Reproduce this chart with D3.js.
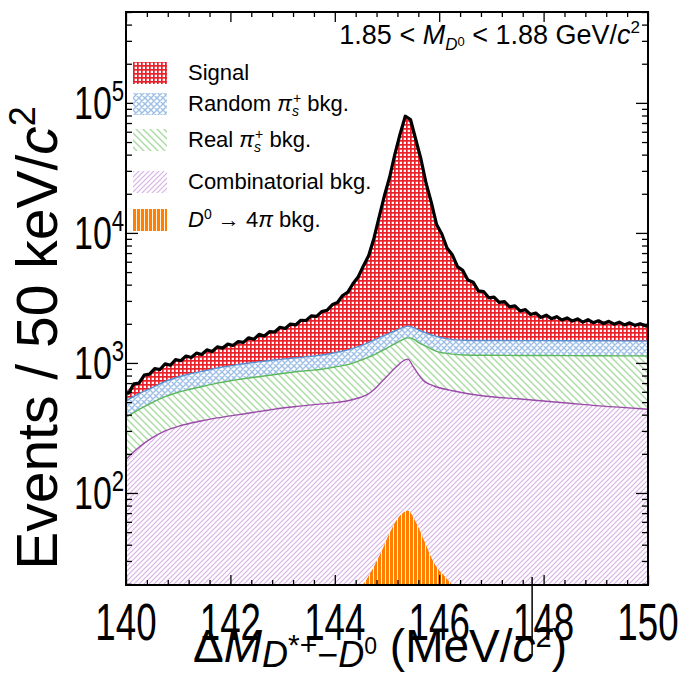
<!DOCTYPE html>
<html>
<head>
<meta charset="utf-8">
<script src="https://cdn.jsdelivr.net/npm/d3@7"></script>
<style>
    body { margin: 0; background: #fff; }
    svg text { font-family: "Liberation Sans", Arial, sans-serif; fill: #000; }
</style>
</head>
<body>
<div id="svg_container"></div>
<script>

/*****************************************/
/*   DATA                                */
/*****************************************/

// fit grid (MeV/c^2)
let fitX = [140, 140.25, 140.5, 140.75, 141, 141.25, 141.5, 141.75, 142, 142.25, 142.5, 142.75,
    143, 143.25, 143.5, 143.75, 144, 144.25, 144.5, 144.6, 144.7, 144.8, 144.9, 145.0, 145.1,
    145.2, 145.3, 145.4, 145.5, 145.6, 145.7, 145.8, 145.9, 146.0, 146.1, 146.2, 146.5, 146.75,
    147, 147.5, 148, 148.5, 149, 149.5, 150];

// fit components, events / 50 keV
let combVals = [182, 225, 265, 300, 325, 345, 362, 378, 392, 405, 420, 435,
    450, 462, 474, 484, 495, 512, 545, 565, 600, 650, 720, 790, 870,
    950, 1030, 1070, 940, 820, 730, 690, 665, 645, 630, 618, 585, 565,
    550, 530, 510, 490, 470, 455, 441];
let realVals = [199, 215, 230, 250, 270, 285, 303, 322, 338, 350, 360, 370,
    380, 393, 401, 411, 435, 458, 505, 525, 530, 530, 520, 510, 500,
    490, 480, 490, 590, 620, 640, 620, 585, 565, 560, 557, 565, 580,
    595, 612, 630, 648, 666, 679, 691];
let randomVals = [129, 140, 150, 170, 185, 200, 205, 215, 220, 230, 235, 240,
    240, 240, 245, 255, 270, 290, 310, 320, 340, 350, 360, 360, 360,
    360, 360, 360, 350, 360, 360, 360, 370, 370, 360, 350, 345, 345,
    345, 343, 345, 344, 344, 344, 343];
let signalVals = [100, 140, 205, 240, 270, 300, 340, 385, 430, 485, 575, 675,
    780, 905, 1080, 1270, 1650, 2290, 3640, 4590, 6230, 8770, 12900, 20340, 30270,
    44200, 62130, 76080, 64120, 43200, 28270, 18330, 12880, 9220, 7150, 5575, 3205, 2160,
    1710, 1135, 815, 678, 600, 532, 485];

// D0 -> 4pi background
let fourPiX = [144.3, 144.5, 144.7, 144.9, 145.1, 145.25, 145.4, 145.55, 145.7, 145.9, 146.1, 146.3, 146.5];
let fourPiVals = [14, 19, 25, 36, 54, 67, 73, 60, 44, 29, 23, 19, 14];

// data, 0.1 MeV steps starting at 140.05
let dataVals = [
    585, 690, 700, 805, 820, 905, 890, 985, 960, 1060,
    1040, 1130, 1100, 1190, 1160, 1260, 1225, 1330, 1300, 1395,
    1360, 1460, 1440, 1560, 1520, 1660, 1610, 1740, 1730, 1880,
    1840, 1990, 1960, 2130, 2120, 2300, 2280, 2480, 2540, 2800,
    2920, 3300, 3500, 4080, 4600, 5600, 6700, 9100, 13300, 19300,
    26800, 40200, 57500, 79000, 74500, 52500, 37000, 24000, 17100, 11600,
    9800, 7650, 6800, 5500, 5150, 4350, 4180, 3580, 3540, 3170,
    3210, 2920, 2960, 2700, 2750, 2510, 2570, 2360, 2420, 2240,
    2330, 2190, 2270, 2140, 2220, 2100, 2180, 2060, 2150, 2040,
    2110, 2010, 2090, 1985, 2060, 1960, 2035, 1945, 2005, 1930];
let dataX = dataVals.map((d, i) => 140.05 + 0.1 * i);

let xTickVals = [140, 142, 144, 146, 148, 150];
let yTickExps = [2, 3, 4, 5];

let legendItems = [
    {key: "signal", label: "Signal"},
    {key: "random", label: "Random"},
    {key: "real", label: "Real"},
    {key: "comb", label: "Combinatorial bkg."},
    {key: "fourpi", label: "D0"}
];


/*****************************************/
/*   CHART AREA                          */
/*****************************************/

let margin = {top: 12, right: 36, bottom: 92, left: 126},
    width = 684 - margin.left - margin.right,
    height = 677 - margin.top - margin.bottom;

let svgRoot = d3.select("#svg_container").append("svg")
    .attr("width", 684)
    .attr("height", 677);

let svg = svgRoot.append("g")
    .attr("transform", "translate(" + margin.left + "," + margin.top + ")");

let yMin = 19.6, yMax = 5.0e5;

let x = d3.scaleLinear().domain([140, 150]).range([0, width]);
let y = d3.scaleLog().domain([yMin, yMax]).range([height, 0]);

// PATTERNS
let defs = svgRoot.append("defs");

let pSig = defs.append("pattern").attr("id", "pSignal").attr("patternUnits", "userSpaceOnUse")
    .attr("width", 4).attr("height", 4);
pSig.append("rect").attr("width", 4).attr("height", 4).attr("fill", "#fff");
pSig.append("rect").attr("width", 1.7).attr("height", 4).attr("fill", "#e9212b");
pSig.append("rect").attr("width", 4).attr("height", 1.7).attr("fill", "#e9212b");

let pRand = defs.append("pattern").attr("id", "pRandom").attr("patternUnits", "userSpaceOnUse")
    .attr("width", 6).attr("height", 6);
pRand.append("rect").attr("width", 6).attr("height", 6).attr("fill", "#fff");
pRand.append("path").attr("d", "M0,0L6,6M6,0L0,6M-1,5L1,7M5,-1L7,1M-1,1L1,-1M5,7L7,5")
    .attr("stroke", "#9fc0e6").attr("stroke-width", 1.4);

let pReal = defs.append("pattern").attr("id", "pReal").attr("patternUnits", "userSpaceOnUse")
    .attr("width", 7).attr("height", 7);
pReal.append("rect").attr("width", 7).attr("height", 7).attr("fill", "#fff");
pReal.append("path").attr("d", "M0,0L7,7M-1,6L1,8M6,-1L8,1")
    .attr("stroke", "#a9dba3").attr("stroke-width", 1.4);

let pComb = defs.append("pattern").attr("id", "pComb").attr("patternUnits", "userSpaceOnUse")
    .attr("width", 5).attr("height", 5);
pComb.append("rect").attr("width", 5).attr("height", 5).attr("fill", "#fff");
pComb.append("path").attr("d", "M0,5L5,0M-1,1L1,-1M4,6L6,4")
    .attr("stroke", "#d7b3e3").attr("stroke-width", 1.2);

let pFour = defs.append("pattern").attr("id", "pFourPi").attr("patternUnits", "userSpaceOnUse")
    .attr("width", 4).attr("height", 4);
pFour.append("rect").attr("width", 4).attr("height", 4).attr("fill", "#ff8000");
pFour.append("rect").attr("x", 3).attr("width", 1).attr("height", 4).attr("fill", "#fff5e6");

let fills = {signal: "url(#pSignal)", random: "url(#pRandom)", real: "url(#pReal)",
    comb: "url(#pComb)", fourpi: "url(#pFourPi)"};

defs.append("clipPath").attr("id", "plotClip")
    .append("rect").attr("width", width).attr("height", height);


/*****************************************/
/*   STACKED FIT COMPONENTS              */
/*****************************************/

let rows = fitX.map((v, i) => ({
    m: v, comb: combVals[i], real: realVals[i], random: randomVals[i], signal: signalVals[i]
}));

let stacked = d3.stack().keys(["comb", "real", "random", "signal"])(rows);

let plot = svg.append("g").attr("clip-path", "url(#plotClip)");

let area = d3.area()
    .x(d => x(d.data.m))
    .y0(d => y(Math.max(d[0], yMin)))
    .y1(d => y(d[1]))
    .curve(d3.curveMonotoneX);

let topLine = d3.line()
    .x(d => x(d.data.m))
    .y(d => y(d[1]))
    .curve(d3.curveMonotoneX);

plot.selectAll(".comp")
    .data(stacked)
    .enter()
    .append("path")
    .attr("class", "comp")
    .attr("d", area)
    .attr("fill", d => fills[d.key]);

let lineColors = {comb: "#9a4aa8", real: "#5cb85c", random: "#5a8fd0"};

plot.selectAll(".compLine")
    .data(stacked.filter(s => s.key !== "signal"))
    .enter()
    .append("path")
    .attr("class", "compLine")
    .attr("d", topLine)
    .attr("fill", "none")
    .attr("stroke", d => lineColors[d.key])
    .attr("stroke-width", 1.4);

// D0 -> 4pi
let fourRows = fourPiX.map((v, i) => ({m: v, val: fourPiVals[i]}));
plot.append("path")
    .datum(fourRows)
    .attr("d", d3.area()
        .x(d => x(d.m))
        .y0(y(yMin))
        .y1(d => y(Math.max(d.val, yMin)))
        .curve(d3.curveMonotoneX))
    .attr("fill", fills.fourpi);

// data
let dataRows = dataX.map((v, i) => ({m: v, val: dataVals[i]}));
let dataPath = [{m: 140, val: dataVals[0]}].concat(dataRows, [{m: 150, val: dataVals[dataVals.length - 1]}]);
plot.append("path")
    .datum(dataPath)
    .attr("d", d3.line().x(d => x(d.m)).y(d => y(d.val)))
    .attr("fill", "none")
    .attr("stroke", "#000")
    .attr("stroke-width", 3.2)
    .attr("stroke-linejoin", "round");


/*****************************************/
/*   AXES / FRAME                        */
/*****************************************/

let xMajor = d3.range(140, 150.01, 2);
let xMinor = d3.range(140, 150.01, 0.4).filter(v => Math.abs(v / 2 - Math.round(v / 2)) > 0.01);

svg.append("g").attr("transform", "translate(0," + height + ")")
    .call(d3.axisBottom(x).tickValues(xMajor).tickSize(-10).tickFormat(""));
svg.append("g").call(d3.axisTop(x).tickValues(xMajor).tickSize(-10).tickFormat(""));
svg.append("g").attr("transform", "translate(0," + height + ")")
    .call(d3.axisBottom(x).tickValues(xMinor).tickSize(-5).tickFormat(""));
svg.append("g").call(d3.axisTop(x).tickValues(xMinor).tickSize(-5).tickFormat(""));

let yMajor = yTickExps.map(e => Math.pow(10, e));
let yMinor = [];
[1, 2, 3, 4, 5].forEach(e => {
    for (let k = 2; k <= 9; k++) {
        let v = k * Math.pow(10, e);
        if (v >= yMin && v <= yMax) yMinor.push(v);
    }
});

svg.append("g").call(d3.axisLeft(y).tickValues(yMajor).tickSize(-12).tickFormat(""));
svg.append("g").attr("transform", "translate(" + width + ",0)")
    .call(d3.axisRight(y).tickValues(yMajor).tickSize(-12).tickFormat(""));
svg.append("g").call(d3.axisLeft(y).tickValues(yMinor).tickSize(-6).tickFormat(""));
svg.append("g").attr("transform", "translate(" + width + ",0)")
    .call(d3.axisRight(y).tickValues(yMinor).tickSize(-6).tickFormat(""));

svg.selectAll(".domain").remove();
svg.selectAll(".tick line").attr("stroke", "#000").attr("stroke-width", 1.3);

svg.append("rect")
    .attr("width", width).attr("height", height)
    .attr("fill", "none").attr("stroke", "#000").attr("stroke-width", 2);

// tick labels (condensed like the original)
svg.selectAll(".xlab")
    .data(xTickVals)
    .enter()
    .append("g")
    .attr("transform", d => "translate(" + x(d) + "," + (height + 55) + ") scale(0.72,1)")
    .append("text")
    .attr("class", "xlab")
    .attr("text-anchor", "middle")
    .style("font-size", "51px")
    .text(d => d);

let ylab = svg.selectAll(".ylab")
    .data(yTickExps)
    .enter()
    .append("g")
    .attr("transform", d => "translate(-52," + (y(Math.pow(10, d)) + 16) + ") scale(0.74,1)")
    .append("text")
    .attr("class", "ylab")
    .style("font-size", "46px");
ylab.append("tspan").text("10");
ylab.append("tspan").attr("dy", -18).style("font-size", "30px").text(d => d);

// stray marker line below axis near 148
svg.append("line")
    .attr("x1", x(147.78)).attr("x2", x(147.78))
    .attr("y1", height - 8).attr("y2", height + 70)
    .attr("stroke", "#000").attr("stroke-width", 1.5);

// axis titles
let xt = svgRoot.append("text")
    .attr("x", 193).attr("y", 662)
    .style("font-size", "46px");
xt.append("tspan").text("Δ");
xt.append("tspan").style("font-style", "italic").text("M");
xt.append("tspan").attr("dy", 5).style("font-size", "36px").style("font-style", "italic").text("D");
xt.append("tspan").attr("dy", -12).style("font-size", "30px").text("*+");
xt.append("tspan").attr("dy", 12).style("font-size", "36px").text("−");
xt.append("tspan").style("font-size", "36px").style("font-style", "italic").text("D");
xt.append("tspan").attr("dy", -13).style("font-size", "23px").text("0");
xt.append("tspan").attr("dy", 8).style("font-size", "46px").text(" (MeV/");
xt.append("tspan").style("font-style", "italic").text("c");
xt.append("tspan").attr("dy", -15).style("font-size", "29px").text("2");
xt.append("tspan").attr("dy", 15).text(")");

let yt = svgRoot.append("text")
    .attr("transform", "translate(57,338) rotate(-90)")
    .attr("text-anchor", "middle")
    .style("font-size", "57px");
yt.append("tspan").text("Events / 50 keV/");
yt.append("tspan").style("font-style", "italic").text("c");
yt.append("tspan").attr("dy", -22).style("font-size", "36px").text("2");

// mass window label
let ml = svg.append("text")
    .attr("x", width - 8).attr("y", 32)
    .attr("text-anchor", "end")
    .style("font-size", "27px");
ml.append("tspan").text("1.85 < ");
ml.append("tspan").style("font-style", "italic").text("M");
ml.append("tspan").attr("dy", 6).style("font-size", "17px").style("font-style", "italic").text("D");
ml.append("tspan").attr("dy", -4).style("font-size", "13px").text("0");
ml.append("tspan").attr("dy", -2).text(" < 1.88 GeV/");
ml.append("tspan").style("font-style", "italic").text("c");
ml.append("tspan").attr("dy", -11).style("font-size", "17px").text("2");


/*****************************************/
/*   LEGEND                              */
/*****************************************/

let legendY = [73, 104, 140, 182, 220];

let legend = svg.selectAll(".legendItem")
    .data(legendItems)
    .enter()
    .append("g")
    .attr("class", "legendItem")
    .attr("transform", (d, i) => "translate(7," + (legendY[i] - margin.top) + ")");

legend.append("rect")
    .attr("x", 0).attr("y", -11)
    .attr("width", 34).attr("height", 22)
    .attr("fill", d => fills[d.key]);

let lt = legend.append("text")
    .attr("x", 55).attr("y", 7)
    .style("font-size", "22px");

lt.each(function(d) {
    let t = d3.select(this);
    if (d.key === "random" || d.key === "real") {
        t.append("tspan").text(d.label + " ");
        t.append("tspan").style("font-style", "italic").text("π");
        t.append("tspan").attr("dy", 5).style("font-size", "14px").style("font-style", "italic").text("s");
        t.append("tspan").attr("dx", -6).attr("dy", -13).style("font-size", "14px").text("+");
        t.append("tspan").attr("dy", 8).text(" bkg.");
    } else if (d.key === "fourpi") {
        t.append("tspan").style("font-style", "italic").text("D");
        t.append("tspan").attr("dy", -8).style("font-size", "14px").text("0");
        t.append("tspan").attr("dy", 8).text(" → 4");
        t.append("tspan").style("font-style", "italic").text("π");
        t.append("tspan").text(" bkg.");
    } else {
        t.text(d.label);
    }
});

</script>
</body>
</html>
